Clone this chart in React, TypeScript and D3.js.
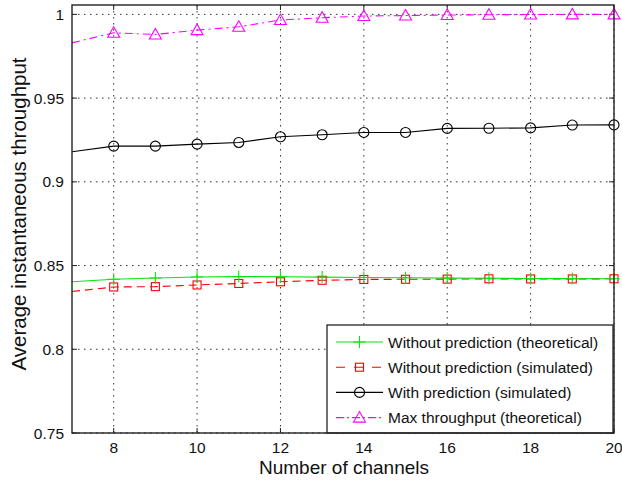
import { useEffect, useRef } from "react";
import * as d3 from "d3";

const channels = [7, 8, 9, 10, 11, 12, 13, 14, 15, 16, 17, 18, 19, 20];
const withoutPredTheoretical = [0.8403, 0.8418, 0.8426, 0.8432, 0.8434, 0.8433, 0.8431, 0.8429, 0.8427, 0.8425, 0.8424, 0.8423, 0.8422, 0.8421];
const withoutPredSimulated = [0.8345, 0.8372, 0.8374, 0.8384, 0.8393, 0.8403, 0.8412, 0.8417, 0.8418, 0.8419, 0.8421, 0.842, 0.842, 0.8421];
const withPredSimulated = [0.918, 0.9213, 0.9213, 0.9225, 0.9235, 0.9269, 0.9281, 0.9295, 0.9295, 0.9319, 0.932, 0.9322, 0.9339, 0.934];
const maxThroughput = [0.983, 0.989, 0.988, 0.9906, 0.9926, 0.9966, 0.998, 0.999, 0.9993, 0.9996, 0.9998, 0.9999, 1.0, 1.0];

const xTicks = [8, 10, 12, 14, 16, 18, 20];
const yTicks = [0.75, 0.8, 0.85, 0.9, 0.95, 1];
const markerFrom = 8;

type Marker = "plus" | "square" | "circle" | "triangle";

const series: { label: string; values: number[]; color: string; dash: string | null; legendDash: string | null; marker: Marker }[] = [
  { label: "Max throughput (theoretical)", values: maxThroughput, color: "#ff00ff", dash: "8,4,2,4", legendDash: "8,3,2,3", marker: "triangle" },
  { label: "With prediction (simulated)", values: withPredSimulated, color: "#000000", dash: null, legendDash: null, marker: "circle" },
  { label: "Without prediction (simulated)", values: withoutPredSimulated, color: "#ff0000", dash: "8,5", legendDash: "9,9", marker: "square" },
  { label: "Without prediction (theoretical)", values: withoutPredTheoretical, color: "#11e011", dash: null, legendDash: null, marker: "plus" },
];
const legendOrder = [3, 2, 1, 0];

const FONT = "'Liberation Sans', Arial, Helvetica, sans-serif";

function drawMarker(g: d3.Selection<SVGGElement, unknown, null, undefined>, kind: Marker, cx: number, cy: number, color: string) {
  if (kind === "circle") {
    g.append("circle").attr("cx", cx).attr("cy", cy).attr("r", 5).attr("fill", "none").attr("stroke", color).attr("stroke-width", 1.1);
  } else if (kind === "square") {
    g.append("rect").attr("x", cx - 4).attr("y", cy - 4).attr("width", 8).attr("height", 8).attr("fill", "none").attr("stroke", color).attr("stroke-width", 1.1);
  } else if (kind === "triangle") {
    g.append("path")
      .attr("d", `M${cx},${cy - 6}L${cx + 6},${cy + 4.5}L${cx - 6},${cy + 4.5}Z`)
      .attr("fill", "none").attr("stroke", color).attr("stroke-width", 1.1);
  } else {
    g.append("path")
      .attr("d", `M${cx - 6},${cy}H${cx + 6}M${cx},${cy - 6}V${cy + 6}`)
      .attr("stroke", color).attr("stroke-width", 1.1);
  }
}

export default function App() {
  const svgRef = useRef<SVGSVGElement>(null);

  useEffect(() => {
    if (!svgRef.current) return;
    const width = 622;
    const height = 480;
    const margin = { top: 5, right: 8, bottom: 47, left: 72 };
    const w = width - margin.left - margin.right;
    const h = height - margin.top - margin.bottom;

    const svg = d3.select(svgRef.current);
    svg.selectAll("*").remove();

    const x = d3.scaleLinear().domain([7, 20]).range([0, w]);
    const y = d3.scaleLinear().domain([0.75, 1.0056]).range([h, 0]);

    svg.append("defs").append("clipPath").attr("id", "plot-clip")
      .append("rect").attr("width", w).attr("height", h);

    const g = svg.append("g").attr("transform", `translate(${margin.left},${margin.top})`);
    g.append("rect").attr("width", w).attr("height", h).attr("fill", "#fff");

    // dotted grid
    const grid = g.append("g").attr("stroke", "#333").attr("stroke-width", 1).attr("stroke-dasharray", "1.5,4.5");
    xTicks.forEach((t) => {
      grid.append("line").attr("x1", x(t)).attr("x2", x(t)).attr("y1", 0).attr("y2", h);
    });
    yTicks.forEach((t) => {
      grid.append("line").attr("x1", 0).attr("x2", w).attr("y1", y(t)).attr("y2", y(t));
    });

    // ticks (inward, all four sides)
    const ticks = g.append("g").attr("stroke", "#222").attr("stroke-width", 1);
    xTicks.forEach((t) => {
      ticks.append("line").attr("x1", x(t)).attr("x2", x(t)).attr("y1", h).attr("y2", h - 5);
      ticks.append("line").attr("x1", x(t)).attr("x2", x(t)).attr("y1", 0).attr("y2", 5);
    });
    yTicks.forEach((t) => {
      ticks.append("line").attr("x1", 0).attr("x2", 5).attr("y1", y(t)).attr("y2", y(t));
      ticks.append("line").attr("x1", w).attr("x2", w - 5).attr("y1", y(t)).attr("y2", y(t));
    });

    // series
    const plot = g.append("g").attr("clip-path", "url(#plot-clip)");
    series.forEach((s) => {
      const line = d3.line<number>().x((_, i) => x(channels[i])).y((d) => y(d));
      plot.append("path").datum(s.values)
        .attr("d", line)
        .attr("fill", "none")
        .attr("stroke", s.color)
        .attr("stroke-width", 1.1)
        .attr("stroke-dasharray", s.dash);
    });
    const marks = g.append("g");
    series.forEach((s) => {
      s.values.forEach((v, i) => {
        if (channels[i] < markerFrom) return;
        drawMarker(marks, s.marker, x(channels[i]), y(v), s.color);
      });
    });

    // tick labels
    g.append("g").selectAll("text").data(xTicks).join("text")
      .attr("x", (d) => x(d)).attr("y", h + 20)
      .attr("text-anchor", "middle")
      .attr("font-family", FONT).attr("font-size", 15.5).attr("fill", "#111")
      .text((d) => String(d));
    g.append("g").selectAll("text").data(yTicks).join("text")
      .attr("x", -8).attr("y", (d) => y(d) + 5.5)
      .attr("text-anchor", "end")
      .attr("font-family", FONT).attr("font-size", 15.5).attr("fill", "#111")
      .text((d) => String(d));

    // axis titles
    svg.append("text")
      .attr("x", 344).attr("y", 474)
      .attr("text-anchor", "middle")
      .attr("font-family", FONT).attr("font-size", 19).attr("fill", "#111")
      .text("Number of channels");
    svg.append("text")
      .attr("transform", `translate(26,214) rotate(-90)`)
      .attr("text-anchor", "middle")
      .attr("font-family", FONT).attr("font-size", 20.5).attr("fill", "#111")
      .text("Average instantaneous throughput");

    // legend
    const lg = g.append("g").attr("transform", `translate(${327 - margin.left},${325 - margin.top})`);
    lg.append("rect").attr("width", 286).attr("height", 108).attr("fill", "#fff").attr("stroke", "#111").attr("stroke-width", 1.2);
    legendOrder.forEach((si, row) => {
      const s = series[si];
      const cy = 17 + row * 25.2;
      lg.append("line").attr("x1", 9).attr("x2", 56).attr("y1", cy).attr("y2", cy)
        .attr("stroke", s.color).attr("stroke-width", 1.1).attr("stroke-dasharray", s.legendDash);
      drawMarker(lg, s.marker, 32.5, cy, s.color);
      lg.append("text").attr("x", 61).attr("y", cy + 5.5)
        .attr("font-family", FONT).attr("font-size", 15.5).attr("fill", "#111")
        .text(s.label);
    });

    // axes box
    g.append("rect").attr("width", w).attr("height", h).attr("fill", "none").attr("stroke", "#222").attr("stroke-width", 1.4);
  }, []);

  return <svg ref={svgRef} width={622} height={480} style={{ position: "absolute", left: 0, top: 0, background: "#fff" }} />;
}
